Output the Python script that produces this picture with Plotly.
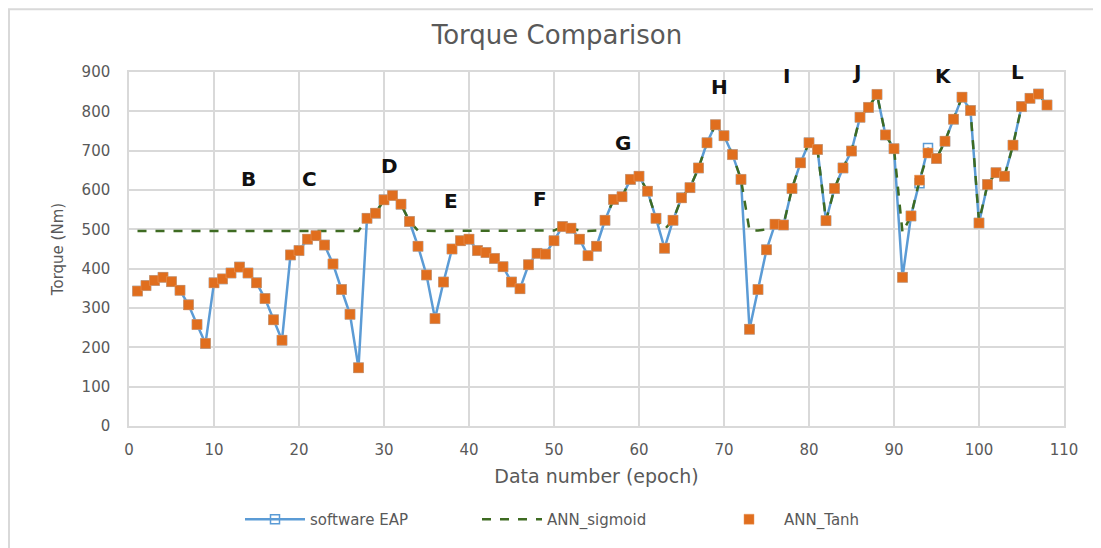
import plotly.graph_objects as go

epochs = list(range(1, 109))

software_eap = [343, 357, 370, 378, 367, 345, 308, 258, 210, 364,
                374, 389, 404, 389, 364, 324, 270, 218, 435, 446,
                475, 484, 460, 412, 347, 284, 148, 528, 541, 575,
                586, 564, 520, 457, 384, 273, 366, 450, 471, 475,
                446, 441, 426, 405, 366, 349, 410, 439, 437, 471,
                507, 503, 475, 433, 457, 523, 576, 583, 627, 635,
                597, 528, 452, 523, 580, 606, 656, 720, 766, 738,
                690, 627, 246, 347, 448, 513, 511, 604, 669, 720,
                703, 522, 604, 656, 699, 785, 810, 843, 740, 705,
                378, 534, 617, 707, 680, 724, 780, 836, 802, 516,
                614, 644, 635, 714, 812, 833, 844, 816]

ann_sigmoid = [496, 496, 496, 496, 496, 496, 496, 496, 496, 496,
               496, 496, 496, 496, 496, 496, 496, 496, 496, 496,
               496, 497, 496, 496, 496, 496, 496, 528, 541, 575,
               586, 564, 520, 497, 496, 496, 496, 496, 496, 496,
               496, 496, 496, 496, 496, 496, 496, 496, 496, 497,
               507, 503, 497, 496, 497, 523, 576, 583, 627, 635,
               597, 528, 500, 523, 580, 606, 656, 720, 766, 738,
               690, 627, 497, 497, 500, 513, 511, 604, 669, 720,
               703, 522, 604, 656, 699, 785, 810, 843, 740, 705,
               492, 534, 625, 694, 680, 724, 780, 836, 802, 520,
               614, 644, 635, 714, 812, 833, 844, 816]

ann_tanh = [343, 357, 370, 378, 367, 345, 308, 258, 210, 364,
            374, 389, 404, 389, 364, 324, 270, 218, 435, 446,
            475, 484, 460, 412, 347, 284, 148, 528, 541, 575,
            586, 564, 520, 457, 384, 273, 366, 450, 471, 475,
            446, 441, 426, 405, 366, 349, 410, 439, 437, 471,
            507, 503, 475, 433, 457, 523, 576, 583, 627, 635,
            597, 528, 452, 523, 580, 606, 656, 720, 766, 738,
            690, 627, 246, 347, 448, 513, 511, 604, 669, 720,
            703, 522, 604, 656, 699, 785, 810, 843, 740, 705,
            378, 534, 625, 694, 680, 724, 780, 836, 802, 516,
            614, 644, 635, 714, 812, 833, 844, 816]

region_labels = ["B", "C", "D", "E", "F", "G", "H", "I", "J", "K", "L"]
region_x = [14.0, 21.2, 30.7, 37.9, 48.4, 58.1, 69.5, 77.4, 85.6, 95.8, 104.5]
region_y = [627, 627, 662, 571, 576, 720, 861, 891, 899, 891, 899]

FONT = "DejaVu Sans"
GRAY = "#595959"
GRID = "#d9d9d9"

# figure is placed 8px from the page corner (default body margin)
W, H = 1093, 540
ML, MR, MT, MB = 121, 37, 64, 120
PW, PH = W - ML - MR, H - MT - MB

fig = go.Figure()
fig.add_trace(go.Scatter(
    x=epochs, y=software_eap, name="software EAP", mode="lines+markers",
    line=dict(color="#5B9BD5", width=2.5),
    marker=dict(symbol="square-open", size=9, color="#5B9BD5", line=dict(width=1.5)),
))
fig.add_trace(go.Scatter(
    x=epochs, y=ann_sigmoid, name="ANN_sigmoid", mode="lines",
    line=dict(color="#3E6B22", width=2.5, dash="dash"),
))
fig.add_trace(go.Scatter(
    x=epochs, y=ann_tanh, name="ANN_Tanh", mode="markers",
    marker=dict(symbol="square", size=10, color="#E06E1E",
                line=dict(color="#E89A60", width=0.5)),
))

for lab, lx, ly in zip(region_labels, region_x, region_y):
    fig.add_annotation(x=lx, y=ly, text=lab, showarrow=False,
                       font=dict(family=FONT, size=20, color="#111111", weight="bold"))

fig.update_layout(
    width=W, height=H,
    margin=dict(l=ML, r=MR, t=MT, b=MB),
    paper_bgcolor="white", plot_bgcolor="white",
    title=dict(text="Torque Comparison", x=549 / W, xanchor="center",
               y=1 - 27 / H, yanchor="middle",
               font=dict(family=FONT, size=26, color=GRAY)),
    font=dict(family=FONT, color=GRAY),
    showlegend=True,
    legend=dict(orientation="h", x=(232 - ML) / PW, xanchor="left",
                y=(PH + 0 - 94) / PH - 1, yanchor="middle",
                font=dict(family=FONT, size=15, color=GRAY),
                entrywidth=162, itemwidth=60),
    xaxis=dict(range=[0, 110], dtick=10, tick0=0, showgrid=True, gridcolor=GRID,
               gridwidth=1.5, zeroline=False, showline=True, linecolor=GRID,
               linewidth=1.5, mirror=True, ticks="", ticklabelstandoff=9,
               tickfont=dict(family=FONT, size=15, color=GRAY),
               title=dict(text="Data number (epoch)", standoff=12,
                          font=dict(family=FONT, size=19, color=GRAY))),
    yaxis=dict(range=[0, 900], dtick=100, tick0=0, showgrid=True, gridcolor=GRID,
               gridwidth=1.5, zeroline=False, showline=True, linecolor=GRID,
               linewidth=1.5, mirror=True, ticks="", ticklabelstandoff=14,
               tickfont=dict(family=FONT, size=15, color=GRAY),
               title=dict(text="Torque (Nm)", standoff=14,
                          font=dict(family=FONT, size=15, color=GRAY))),
    shapes=[dict(type="rect", xref="paper", yref="paper",
                 x0=(1 - ML) / PW, x1=(W + 20 - ML) / PW,
                 y0=-(H + 20 - MT - PH) / PH, y1=(MT + PH - 1) / PH,
                 line=dict(color=GRID, width=2), layer="below")],
)

fig.write_html("out.html")
